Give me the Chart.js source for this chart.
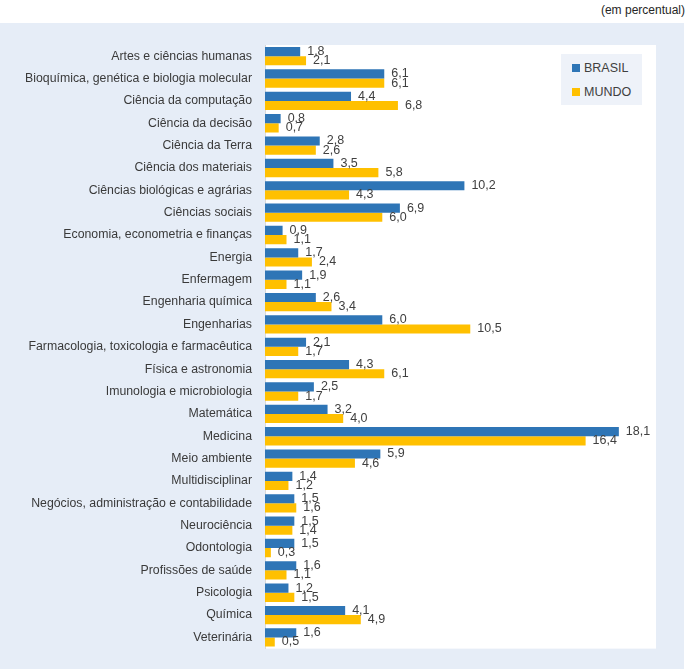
<!DOCTYPE html>
<html>
<head>
<meta charset="utf-8">
<script src="https://cdn.jsdelivr.net/npm/chart.js@4"></script>
<style>
  html, body { margin: 0; padding: 0; background: #ffffff; }
  #page { position: relative; width: 690px; height: 669px; overflow: hidden; font-family: "Liberation Sans", sans-serif; }
  #unit { position: absolute; right: 5px; top: 3px; font-size: 12px; color: #262626; }
  #panel { position: absolute; left: 0; top: 23px; width: 684px; height: 646px; background: #e6edf7; }
  #chartBox { position: absolute; left: 0; top: 0; width: 690px; height: 669px; }
  #legend { position: absolute; left: 561px; top: 54px; width: 81px; height: 51px; background: #eef2f9; font-size: 12.5px; color: #404040; }
  #legend div { position: absolute; left: 11px; height: 14px; line-height: 14px; }
  #legend span { display: inline-block; width: 8px; height: 8px; margin-right: 4px; vertical-align: 0px; }
</style>
</head>
<body>
<div id="page">
  <div id="unit">(em percentual)</div>
  <div id="panel"></div>
  <div id="chartBox"><canvas id="chart" width="690" height="669"></canvas></div>
  <div id="legend"></div>
</div>
<script>
// --- DONNEES ---
const categories = [
  "Artes e ciências humanas",
  "Bioquímica, genética e biologia molecular",
  "Ciência da computação",
  "Ciência da decisão",
  "Ciência da Terra",
  "Ciência dos materiais",
  "Ciências biológicas e agrárias",
  "Ciências sociais",
  "Economia, econometria e finanças",
  "Energia",
  "Enfermagem",
  "Engenharia química",
  "Engenharias",
  "Farmacologia, toxicologia e farmacêutica",
  "Física e astronomia",
  "Imunologia e microbiologia",
  "Matemática",
  "Medicina",
  "Meio ambiente",
  "Multidisciplinar",
  "Negócios, administração e contabilidade",
  "Neurociência",
  "Odontologia",
  "Profissões de saúde",
  "Psicologia",
  "Química",
  "Veterinária"
];
const brasil = [1.8, 6.1, 4.4, 0.8, 2.8, 3.5, 10.2, 6.9, 0.9, 1.7, 1.9, 2.6, 6.0, 2.1, 4.3, 2.5, 3.2, 18.1, 5.9, 1.4, 1.5, 1.5, 1.5, 1.6, 1.2, 4.1, 1.6];
const mundo  = [2.1, 6.1, 6.8, 0.7, 2.6, 5.8, 4.3, 6.0, 1.1, 2.4, 1.1, 3.4, 10.5, 1.7, 6.1, 1.7, 4.0, 16.4, 4.6, 1.2, 1.6, 1.4, 0.3, 1.1, 1.5, 4.9, 0.5];
const seriesNames = ["BRASIL", "MUNDO"];
const seriesColors = ["#2e75b6", "#ffc000"];
const xMax = 20;

// fond blanc de la zone de tracé
const plotBg = {
  id: "plotBg",
  beforeDraw(chart) {
    const { ctx, chartArea: a } = chart;
    ctx.save();
    ctx.fillStyle = "#ffffff";
    ctx.fillRect(a.left, a.top, a.right - a.left, a.bottom - a.top);
    ctx.restore();
  }
};

// étiquettes de valeurs
const valueLabels = {
  id: "valueLabels",
  afterDatasetsDraw(chart) {
    const ctx = chart.ctx;
    ctx.save();
    ctx.font = "12.5px 'Liberation Sans', sans-serif";
    ctx.fillStyle = "#404040";
    ctx.textAlign = "left";
    ctx.textBaseline = "middle";
    chart.data.datasets.forEach((ds, i) => {
      chart.getDatasetMeta(i).data.forEach((bar, j) => {
        const txt = ds.data[j].toFixed(1).replace(".", ",");
        ctx.fillText(txt, bar.x + 7, bar.y);
      });
    });
    ctx.restore();
  }
};

const chart = new Chart(document.getElementById("chart"), {
  type: "bar",
  data: {
    labels: categories,
    datasets: [
      { label: seriesNames[0], data: brasil, backgroundColor: seriesColors[0] },
      { label: seriesNames[1], data: mundo, backgroundColor: seriesColors[1] }
    ]
  },
  options: {
    indexAxis: "y",
    responsive: false,
    animation: false,
    datasets: { bar: { categoryPercentage: 0.82, barPercentage: 1.0 } },
    layout: { padding: { left: 0, right: 34, top: 45, bottom: 17 } },
    plugins: { legend: { display: false }, tooltip: { enabled: false } },
    scales: {
      x: { display: false, min: 0, max: xMax },
      y: {
        grid: { display: false, drawTicks: false },
        border: { display: true, color: "#d9d9d9" },
        ticks: {
          autoSkip: false,
          padding: 13,
          color: "#3a3a3a",
          font: { family: "'Liberation Sans', sans-serif", size: 12.3 }
        },
        afterFit(scale) { scale.width = 265; }
      }
    }
  },
  plugins: [plotBg, valueLabels]
});

// légende HTML
const legend = document.getElementById("legend");
seriesNames.forEach((name, i) => {
  const d = document.createElement("div");
  d.style.top = (7 + i * 24) + "px";
  d.innerHTML = '<span style="background:' + seriesColors[i] + '"></span>' + name;
  legend.appendChild(d);
});
</script>
</body>
</html>
